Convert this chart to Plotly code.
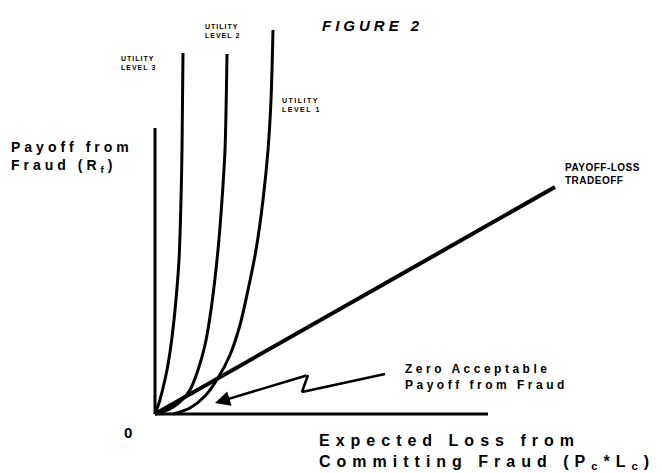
import json
import plotly.graph_objects as go

# Axis extents
x_axis_x = [0, 333]
x_axis_y = [0, 0]
y_axis_x = [0, 0]
y_axis_y = [0, 286]

# Indifference (utility) curves
u3_x = [0, 4, 8, 12, 16, 20, 24, 26, 27, 28]
u3_y = [0, 11, 26, 44, 69, 104, 154, 214, 264, 361]
u2_x = [0, 13, 25, 35, 43, 50, 56, 63, 67, 70, 72]
u2_y = [0, 4, 12, 24, 44, 69, 104, 164, 214, 264, 360]
u1_x = [18, 35, 50, 63, 75, 85, 93, 101, 108, 113, 116, 118]
u1_y = [0, 6, 18, 36, 59, 89, 124, 164, 214, 264, 314, 384]

# Payoff-loss tradeoff line
pl_x = [0, 400]
pl_y = [0, 227]

# Zig-zag pointer
zz_x = [230, 147, 153]
zz_y = [40, 22, 39]
zz_tip = (60, 11)

fig = go.Figure()
line_specs = [
    (x_axis_x, x_axis_y, 3, "linear"),
    (y_axis_x, y_axis_y, 3, "linear"),
    (u3_x, u3_y, 3, "spline"),
    (u2_x, u2_y, 3, "spline"),
    (u1_x, u1_y, 3, "spline"),
    (pl_x, pl_y, 4, "linear"),
    (zz_x, zz_y, 2.5, "linear"),
]
for xs, ys, w, shp in line_specs:
    ln = dict(color="black", width=w, shape=shp)
    if shp == "spline":
        ln["smoothing"] = 0.8
    fig.add_trace(go.Scatter(x=xs, y=ys, mode="lines", line=ln,
                             hoverinfo="skip", showlegend=False))

fig.add_annotation(x=zz_tip[0], y=zz_tip[1], ax=zz_x[-1], ay=zz_y[-1],
                   xref="x", yref="y", axref="x", ayref="y", text="",
                   showarrow=True, arrowhead=2, arrowsize=1.2, arrowwidth=2.5,
                   arrowcolor="black")

F = "Liberation Sans, Arial, sans-serif"
# (text, x, y, size, letter spacing, yanchor)
labels = [
    ("<b><i>FIGURE 2</i></b>", 165, 389, 15, 4, "middle"),
    ("<b>UTILITY<br>LEVEL 3</b>", -36, 361, 7, 1, "top"),
    ("<b>UTILITY<br>LEVEL 2</b>", 48, 393, 7, 1, "top"),
    ("<b>UTILITY<br>LEVEL 1</b>", 125, 319, 7, 1.5, "top"),
    ("<b>PAYOFF-LOSS<br>TRADEOFF</b>", 408, 254, 10, 0.5, "top"),
    ("<b>Payoff from<br>Fraud (R<sub>f</sub>)</b>", -146, 277, 14, 4, "top"),
    ("<b>0</b>", -33, -18, 15, 0, "middle"),
    ("<b>Zero Acceptable<br>Payoff from Fraud</b>", 248, 54, 12, 3.5, "top"),
    ("<b>Expected Loss from<br>Committing Fraud (P<sub>c</sub>*L<sub>c</sub>)</b>", 162, -16, 16, 6, "top"),
]
spacing = {}
for i, (t, x, y, s, sp, ya) in enumerate(labels):
    fig.add_annotation(x=x, y=y, xref="x", yref="y", text=t, showarrow=False,
                       xanchor="left", yanchor=ya, align="left",
                       font=dict(family=F, size=s, color="black"))
    spacing[i + 1] = sp

fig.update_layout(
    width=662, height=473, margin=dict(l=0, r=0, t=0, b=0),
    paper_bgcolor="white", plot_bgcolor="white",
    xaxis=dict(range=[-155, 507], visible=False, fixedrange=True),
    yaxis=dict(range=[-59, 414], visible=False, fixedrange=True),
)

js = """
document.body.style.margin = '0';
document.body.style.overflow = 'hidden';
var sp = %s;
document.querySelectorAll('g.annotation').forEach(function(g){
  var i = g.getAttribute('data-index');
  if (sp[i]) { g.querySelectorAll('text').forEach(function(t){ t.style.letterSpacing = sp[i] + 'px'; }); }
});
""" % json.dumps({str(k): v for k, v in spacing.items()})

fig.write_html("out.html", post_script=js, config={"displayModeBar": False})
